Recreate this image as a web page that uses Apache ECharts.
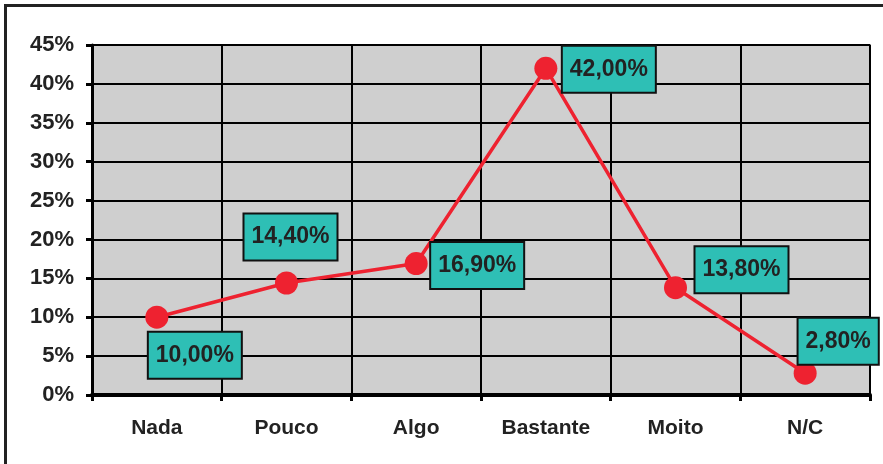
<!DOCTYPE html>
<html>
<head>
<meta charset="utf-8">
<script src="https://cdn.jsdelivr.net/npm/echarts@6/dist/echarts.min.js"></script>
<style>
  html, body { margin: 0; padding: 0; background: #fff; }
  #chart { width: 883px; height: 464px; }
  .frame { position: absolute; left: 4px; top: 4px; width: 900px; height: 500px;
    border-top: 3px solid #222; border-left: 3px solid #222; pointer-events: none; }
</style>
</head>
<body>
<div id="chart"></div>
<div class="frame"></div>
<script>
const categories = ["Nada", "Pouco", "Algo", "Bastante", "Moito", "N/C"];
const values = [10.0, 14.4, 16.9, 42.0, 13.8, 2.8];
const labelOffsets = [[38, 38], [4, -46], [61, 2], [63, 1], [66, -18], [33, -32]];

const chart = echarts.init(document.getElementById("chart"));

const fmt = v => v.toFixed(2).replace(".", ",") + "%";

chart.setOption({
  animation: false,
  grid: {
    left: 92, right: 13, top: 45, bottom: 69,
    show: true,
    backgroundColor: "#cfcfcf",
    borderColor: "#999",
    borderWidth: 2,
  },
  xAxis: {
    type: "category",
    data: categories,
    boundaryGap: true,
    axisLine: { lineStyle: { color: "#000", width: 4 } },
    axisTick: { show: true, length: 6, lineStyle: { color: "#000", width: 3 } },
    axisLabel: {
      color: "#222", fontSize: 21, fontWeight: "bold",
      fontFamily: "Liberation Sans, Arial, sans-serif", margin: 23,
    },
    splitLine: { show: true, lineStyle: { color: "#000", width: 2 } },
  },
  yAxis: {
    type: "value",
    min: 0, max: 45, interval: 5,
    axisLine: { show: true, lineStyle: { color: "#000", width: 3 } },
    axisTick: { show: true, length: 6, lineStyle: { color: "#000", width: 3 } },
    axisLabel: {
      color: "#222", fontSize: 22, fontWeight: "bold",
      fontFamily: "Liberation Sans, Arial, sans-serif", margin: 18,
      formatter: v => v + "%",
    },
    splitLine: { show: true, lineStyle: { color: "#000", width: 2 } },
  },
  series: [{
    type: "line",
    data: values.map((v, i) => ({
      value: v,
      label: { offset: labelOffsets[i] },
    })),
    symbol: "circle",
    symbolSize: 23,
    itemStyle: { color: "#ee2230" },
    lineStyle: { color: "#ee2230", width: 3.5 },
    z: 3,
    label: {
      show: true,
      position: "inside",
      formatter: p => fmt(p.value),
      color: "#222",
      fontSize: 23,
      fontWeight: "bold",
      fontFamily: "Liberation Sans, Arial, sans-serif",
      backgroundColor: "#2ebfb5",
      borderColor: "#111",
      borderWidth: 2,
      padding: [11, 7, 10, 7],
      lineHeight: 24,
    },
  }],
});
</script>
</body>
</html>
